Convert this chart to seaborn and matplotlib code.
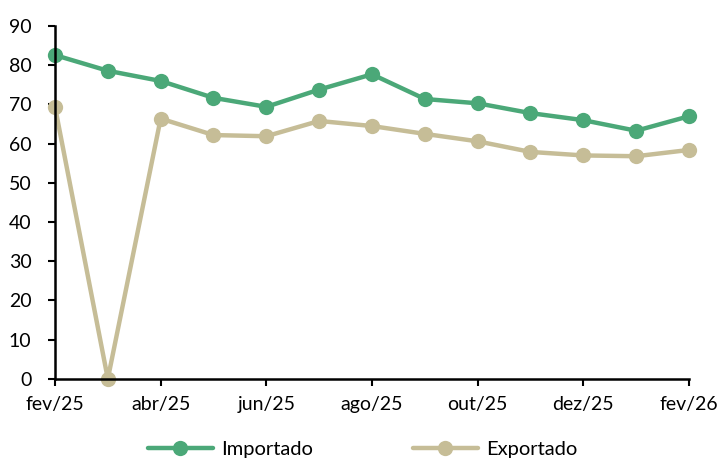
import numpy as np
import pandas as pd
import matplotlib
matplotlib.use('Agg')
import matplotlib.pyplot as plt
import seaborn as sns

meses = ['fev/25', 'mar/25', 'abr/25', 'mai/25', 'jun/25', 'jul/25', 'ago/25',
         'set/25', 'out/25', 'nov/25', 'dez/25', 'jan/26', 'fev/26']
importado = [82.6, 78.6, 76.0, 71.7, 69.4, 73.8, 77.7, 71.4, 70.3, 67.8, 66.0, 63.3, 67.0]
exportado = [69.4, 0.0, 66.4, 62.2, 61.9, 65.8, 64.5, 62.5, 60.6, 57.9, 57.0, 56.8, 58.4]
series = ['Importado', 'Exportado']
cores = {'Importado': '#4ba878', 'Exportado': '#c6bd97'}

df = pd.DataFrame({
    'pos': list(range(len(meses))) * 2,
    'valor': importado + exportado,
    'serie': ['Importado'] * len(meses) + ['Exportado'] * len(meses),
})

sns.set_theme(style='ticks')
plt.rcParams['font.family'] = ['Lato', 'DejaVu Sans']
plt.rcParams['text.color'] = 'black'

fig = plt.figure(figsize=(7.18, 4.66), dpi=100)
ax = fig.add_axes([0.0766, 0.187, 0.883, 0.757])

sns.lineplot(data=df, x='pos', y='valor', hue='serie', hue_order=series,
             palette=cores, marker='o', markersize=11, markeredgewidth=0,
             linewidth=3.2, ax=ax, legend=False, clip_on=False)

ax.set_xlim(0, len(meses) - 1)
ax.set_ylim(0, 90)
ax.set_yticks(range(0, 91, 10))
ax.set_xticks(range(0, len(meses), 2))
ax.set_xticklabels(meses[::2])
ax.set_xlabel('')
ax.set_ylabel('')
ax.tick_params(axis='both', labelsize=14, direction='out', length=5, width=1.5,
               colors='black', labelcolor='black')
ax.tick_params(axis='y', pad=12)
ax.tick_params(axis='x', pad=7)
for s in ['top', 'right']:
    ax.spines[s].set_visible(False)
for s in ['left', 'bottom']:
    ax.spines[s].set_linewidth(1.8)
    ax.spines[s].set_color('black')

handles = [plt.Line2D([], [], color=cores[s], marker='o', markersize=11, linewidth=3.2,
                      markeredgewidth=0) for s in series]
fig.legend(handles, series, loc='lower center', bbox_to_anchor=(0.505, -0.022), ncol=2,
           frameon=False, fontsize=14.5, columnspacing=5.0, handlelength=3.2,
           handletextpad=0.4, labelcolor='black')

fig.savefig('out.png', dpi=100)
